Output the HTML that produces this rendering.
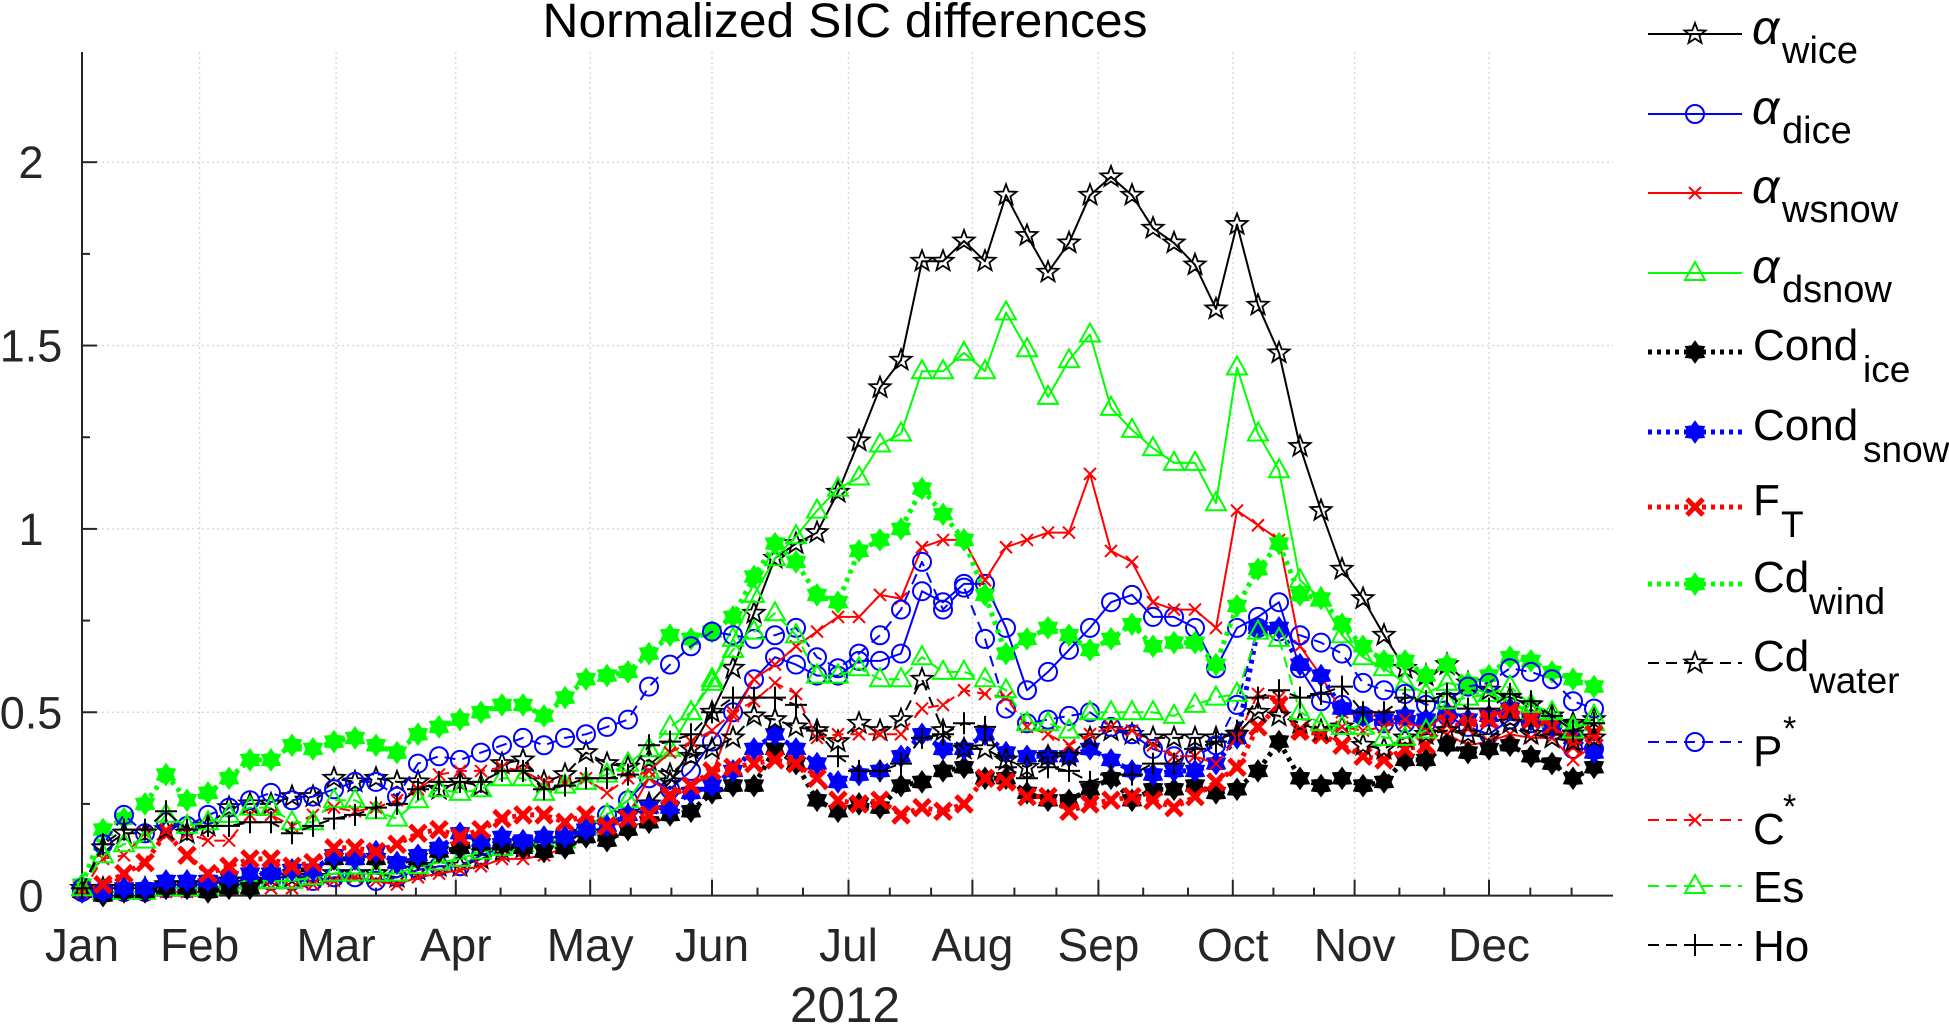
<!DOCTYPE html>
<html><head><meta charset="utf-8"><style>
html,body{margin:0;padding:0;background:#fff}
svg{display:block}
text{font-family:"Liberation Sans",sans-serif;fill:#262626}
</style></head><body>
<svg id="chart" width="1949" height="1027" viewBox="0 0 1949 1027" xmlns="http://www.w3.org/2000/svg">
<rect width="1949" height="1027" fill="#fff"/>
<text x="845" y="37" font-size="48" text-anchor="middle" textLength="605" lengthAdjust="spacingAndGlyphs" style="fill:#000">Normalized SIC differences</text>
<g id="grid"></g><g id="axes"></g><g id="series"></g><g id="legend"></g>
<text x="845" y="1022" font-size="50" text-anchor="middle" textLength="110" lengthAdjust="spacingAndGlyphs">2012</text>
</svg>
<script>
const monthLabels=["Jan","Feb","Mar","Apr","May","Jun","Jul","Aug","Sep","Oct","Nov","Dec"];
const monthPos=[0,5.6,12.1,17.8,24.2,30,36.5,42.4,48.4,54.8,60.6,67.0];
const yTicks=[0,0.5,1,1.5,2];
const yTickLabels=["0","0.5","1","1.5","2"];
const wice=[0.02,0.02,0.02,0.02,0.03,0.03,0.03,0.04,0.04,0.05,0.05,0.05,0.06,0.06,0.06,0.05,0.07,0.08,0.08,0.10,0.12,0.13,0.14,0.15,0.17,0.19,0.22,0.25,0.31,0.40,0.50,0.62,0.77,0.92,0.96,0.99,1.10,1.24,1.385,1.46,1.73,1.73,1.785,1.73,1.91,1.80,1.70,1.78,1.91,1.96,1.91,1.82,1.78,1.72,1.60,1.83,1.61,1.48,1.225,1.05,0.89,0.81,0.71,0.62,0.60,0.63,0.58,0.56,0.54,0.52,0.49,0.47,0.48];
const dice=[0.01,0.01,0.01,0.01,0.02,0.02,0.02,0.03,0.03,0.04,0.04,0.04,0.05,0.05,0.04,0.05,0.07,0.08,0.08,0.11,0.13,0.14,0.15,0.17,0.18,0.22,0.26,0.32,0.29,0.34,0.42,0.50,0.59,0.65,0.63,0.60,0.60,0.64,0.64,0.66,0.83,0.80,0.85,0.85,0.73,0.56,0.61,0.67,0.73,0.80,0.82,0.76,0.76,0.73,0.62,0.73,0.76,0.80,0.62,0.53,0.52,0.49,0.47,0.47,0.47,0.49,0.46,0.44,0.48,0.47,0.46,0.40,0.40];
const wsnow=[0.01,0.01,0.01,0.01,0.01,0.01,0.01,0.02,0.02,0.02,0.02,0.03,0.04,0.05,0.04,0.03,0.05,0.06,0.07,0.08,0.10,0.10,0.11,0.13,0.16,0.18,0.22,0.32,0.28,0.30,0.33,0.49,0.59,0.63,0.68,0.72,0.76,0.76,0.82,0.81,0.95,0.97,0.97,0.86,0.95,0.97,0.99,0.99,1.15,0.94,0.91,0.80,0.78,0.78,0.73,1.05,1.01,0.97,0.68,0.60,0.50,0.49,0.49,0.47,0.46,0.44,0.41,0.42,0.44,0.43,0.43,0.37,0.41];
const dsnow=[0.02,0.01,0.01,0.01,0.02,0.02,0.02,0.03,0.04,0.04,0.04,0.05,0.06,0.06,0.06,0.06,0.08,0.09,0.10,0.12,0.13,0.14,0.15,0.15,0.19,0.22,0.26,0.34,0.40,0.50,0.58,0.70,0.82,0.92,0.98,1.05,1.11,1.14,1.23,1.26,1.43,1.43,1.48,1.43,1.59,1.49,1.36,1.46,1.53,1.33,1.27,1.22,1.18,1.18,1.07,1.44,1.26,1.16,0.86,0.81,0.71,0.65,0.62,0.58,0.55,0.58,0.57,0.55,0.53,0.50,0.48,0.46,0.47];
const condIce=[0.01,0.00,0.01,0.01,0.02,0.02,0.01,0.02,0.02,0.06,0.07,0.07,0.10,0.10,0.10,0.09,0.10,0.12,0.13,0.14,0.14,0.13,0.12,0.13,0.16,0.15,0.18,0.20,0.22,0.23,0.28,0.30,0.30,0.40,0.36,0.26,0.23,0.25,0.24,0.30,0.31,0.34,0.35,0.32,0.32,0.28,0.26,0.26,0.29,0.32,0.26,0.29,0.29,0.30,0.28,0.29,0.34,0.42,0.32,0.30,0.32,0.30,0.31,0.37,0.37,0.41,0.39,0.40,0.41,0.38,0.36,0.32,0.35];
const condSnow=[0.01,0.01,0.02,0.02,0.04,0.04,0.04,0.05,0.06,0.06,0.07,0.07,0.11,0.10,0.12,0.09,0.11,0.13,0.17,0.15,0.16,0.15,0.16,0.16,0.18,0.19,0.22,0.24,0.24,0.28,0.30,0.34,0.40,0.44,0.40,0.36,0.31,0.33,0.34,0.38,0.44,0.40,0.40,0.44,0.39,0.38,0.38,0.38,0.40,0.37,0.34,0.33,0.34,0.34,0.36,0.43,0.73,0.73,0.63,0.60,0.51,0.49,0.48,0.49,0.48,0.50,0.48,0.49,0.51,0.48,0.46,0.43,0.39];
const fT=[0.02,0.03,0.06,0.09,0.17,0.11,0.06,0.08,0.10,0.10,0.08,0.09,0.13,0.13,0.12,0.14,0.17,0.18,0.16,0.18,0.21,0.22,0.22,0.20,0.22,0.19,0.21,0.22,0.27,0.30,0.34,0.35,0.36,0.37,0.36,0.32,0.26,0.25,0.26,0.22,0.24,0.23,0.25,0.32,0.31,0.27,0.27,0.23,0.25,0.26,0.27,0.26,0.24,0.27,0.31,0.35,0.46,0.52,0.45,0.44,0.41,0.38,0.37,0.40,0.41,0.47,0.46,0.48,0.50,0.48,0.46,0.41,0.44];
const cdWind=[0.03,0.18,0.21,0.25,0.33,0.26,0.28,0.32,0.37,0.37,0.41,0.40,0.42,0.43,0.41,0.39,0.44,0.46,0.48,0.50,0.52,0.52,0.49,0.54,0.59,0.60,0.61,0.66,0.71,0.70,0.72,0.76,0.87,0.96,0.91,0.82,0.80,0.94,0.97,1.00,1.11,1.04,0.97,0.82,0.66,0.70,0.73,0.71,0.67,0.70,0.74,0.68,0.69,0.69,0.63,0.79,0.89,0.96,0.82,0.81,0.74,0.68,0.64,0.64,0.60,0.63,0.58,0.60,0.65,0.64,0.61,0.59,0.57];
const cdWater=[0.02,0.13,0.17,0.17,0.18,0.17,0.19,0.24,0.25,0.25,0.27,0.27,0.32,0.31,0.32,0.31,0.31,0.29,0.31,0.30,0.36,0.37,0.31,0.33,0.39,0.36,0.35,0.37,0.33,0.38,0.40,0.43,0.49,0.48,0.46,0.45,0.42,0.47,0.45,0.48,0.59,0.45,0.40,0.40,0.37,0.35,0.38,0.38,0.43,0.45,0.44,0.43,0.43,0.43,0.43,0.44,0.50,0.49,0.47,0.45,0.46,0.41,0.40,0.43,0.44,0.45,0.44,0.43,0.47,0.44,0.43,0.42,0.43];
const pStar=[0.02,0.14,0.22,0.17,0.20,0.19,0.22,0.24,0.26,0.28,0.26,0.27,0.29,0.31,0.31,0.27,0.36,0.38,0.37,0.39,0.41,0.43,0.41,0.43,0.44,0.46,0.48,0.57,0.63,0.68,0.72,0.71,0.70,0.71,0.73,0.65,0.62,0.66,0.71,0.78,0.91,0.78,0.84,0.70,0.51,0.47,0.48,0.49,0.50,0.46,0.44,0.40,0.38,0.38,0.41,0.52,0.73,0.72,0.71,0.69,0.66,0.58,0.56,0.55,0.52,0.53,0.57,0.58,0.62,0.61,0.59,0.53,0.51];
const cStar=[0.01,0.10,0.11,0.17,0.18,0.17,0.15,0.15,0.22,0.22,0.19,0.22,0.24,0.23,0.24,0.26,0.29,0.33,0.34,0.34,0.35,0.34,0.31,0.31,0.32,0.28,0.32,0.34,0.39,0.42,0.45,0.50,0.53,0.58,0.55,0.43,0.44,0.44,0.44,0.44,0.51,0.52,0.56,0.55,0.54,0.46,0.44,0.41,0.44,0.46,0.45,0.41,0.38,0.38,0.36,0.43,0.55,0.54,0.44,0.43,0.46,0.45,0.46,0.48,0.45,0.50,0.48,0.49,0.51,0.49,0.46,0.43,0.43];
const es=[0.02,0.11,0.14,0.15,0.22,0.19,0.20,0.22,0.24,0.24,0.20,0.20,0.26,0.26,0.23,0.21,0.26,0.29,0.28,0.29,0.32,0.32,0.28,0.30,0.31,0.33,0.36,0.40,0.46,0.50,0.59,0.67,0.72,0.77,0.71,0.60,0.60,0.62,0.59,0.59,0.65,0.61,0.61,0.59,0.56,0.47,0.47,0.45,0.50,0.50,0.50,0.50,0.49,0.52,0.54,0.55,0.72,0.70,0.50,0.47,0.46,0.46,0.43,0.43,0.45,0.53,0.54,0.55,0.57,0.52,0.50,0.45,0.49];
const ho=[0.02,0.14,0.18,0.18,0.23,0.18,0.19,0.19,0.20,0.20,0.17,0.19,0.21,0.22,0.24,0.25,0.29,0.31,0.31,0.31,0.34,0.34,0.29,0.30,0.32,0.32,0.33,0.41,0.42,0.44,0.50,0.54,0.54,0.54,0.52,0.45,0.38,0.34,0.34,0.36,0.43,0.44,0.47,0.46,0.35,0.32,0.35,0.34,0.31,0.33,0.33,0.36,0.36,0.40,0.42,0.45,0.54,0.56,0.54,0.55,0.57,0.50,0.50,0.54,0.53,0.55,0.51,0.51,0.55,0.53,0.49,0.45,0.47];

const NS="http://www.w3.org/2000/svg";
const X0=82,XSTEP=21,Y0=895.6,YUNIT=366.7,TOP=52,RIGHT=1613;
function sx(i){return X0+i*XSTEP;}
function sy(v){return Y0-v*YUNIT;}
function mk(tag,attrs,parent){const e=document.createElementNS(NS,tag);for(const k in attrs)e.setAttribute(k,attrs[k]);parent.appendChild(e);return e;}

const grid=document.getElementById('grid'),axes=document.getElementById('axes'),ser=document.getElementById('series'),leg=document.getElementById('legend');
monthPos.forEach((m,k)=>{if(k===0)return;const l=mk('line',{x1:sx(m),x2:sx(m),y1:TOP,y2:Y0,stroke:'#d4d4d4','stroke-width':1.3,'stroke-dasharray':'2 3'},grid);

});
yTicks.forEach(v=>{if(v===0)return;const l=mk('line',{x1:X0,x2:RIGHT,y1:sy(v),y2:sy(v),stroke:'#d4d4d4','stroke-width':1.3,'stroke-dasharray':'2 3'},grid);

});
const ya=mk('line',{x1:X0,x2:X0,y1:TOP,y2:Y0,stroke:'#262626','stroke-width':2},axes);


const xa=mk('line',{x1:X0,x2:RIGHT,y1:Y0,y2:Y0,stroke:'#262626','stroke-width':2},axes);


yTicks.forEach((v,k)=>{mk('line',{x1:X0,x2:X0+15,y1:sy(v),y2:sy(v),stroke:'#262626','stroke-width':2},axes);
if(k<yTicks.length-1){mk('line',{x1:X0,x2:X0+8,y1:sy(v+0.25),y2:sy(v+0.25),stroke:'#262626','stroke-width':2},axes);}
const t=mk('text',{x:31,y:sy(v)+16,'font-size':45,'text-anchor':'middle'},axes);t.textContent=yTickLabels[k];

});
monthPos.forEach((m,k)=>{mk('line',{x1:sx(m),x2:sx(m),y1:Y0,y2:Y0-16,stroke:'#262626','stroke-width':2},axes);
const nxt=k<monthPos.length-1?monthPos[k+1]:72.9;
for(let j=1;j<=2;j++){const mm=m+(nxt-m)*j/3;mk('line',{x1:sx(mm),x2:sx(mm),y1:Y0,y2:Y0-8,stroke:'#262626','stroke-width':2},axes);}
const t=mk('text',{x:sx(m),y:961,'font-size':46,'text-anchor':'middle'},axes);t.textContent=monthLabels[k];

});

function star(n,ro,ri,cx,cy){let p=[];for(let k=0;k<2*n;k++){const r=k%2?ri:ro;const a=-Math.PI/2+k*Math.PI/n;p.push((cx+r*Math.cos(a)).toFixed(1)+','+(cy+r*Math.sin(a)).toFixed(1));}return p.join(' ');}
function marker(type,color,cx,cy,g){
 if(type==='star')return mk('polygon',{points:star(5,11,4.6,cx,cy),fill:'none',stroke:color,'stroke-width':1.8},g);
 if(type==='circle')return mk('circle',{cx:cx,cy:cy,r:9,fill:'none',stroke:color,'stroke-width':2},g);
 if(type==='x'){return mk('path',{d:`M${cx-6},${cy-6}L${cx+6},${cy+6}M${cx-6},${cy+6}L${cx+6},${cy-6}`,stroke:color,'stroke-width':2,fill:'none'},g);}
 if(type==='bx'){return mk('path',{d:`M${cx-8},${cy-8}L${cx+8},${cy+8}M${cx-8},${cy+8}L${cx+8},${cy-8}`,stroke:color,'stroke-width':5,fill:'none'},g);}
 if(type==='tri')return mk('polygon',{points:`${cx},${cy-11} ${cx+10},${cy+7} ${cx-10},${cy+7}`,fill:'none',stroke:color,'stroke-width':2},g);
 if(type==='hex')return mk('polygon',{points:star(6,11,7,cx,cy),fill:color,stroke:color,'stroke-width':1},g);
 if(type==='plus'){return mk('path',{d:`M${cx-11},${cy}L${cx+11},${cy}M${cx},${cy-11}L${cx},${cy+11}`,stroke:color,'stroke-width':2,fill:'none'},g);}
}
const SER=[
 {name:'alpha-wice',d:wice,c:'#000',m:'star',dash:null,w:2},
 {name:'alpha-dice',d:dice,c:'#0000ff',m:'circle',dash:null,w:2},
 {name:'alpha-wsnow',d:wsnow,c:'#ff0000',m:'x',dash:null,w:2},
 {name:'alpha-dsnow',d:dsnow,c:'#00ff00',m:'tri',dash:null,w:2},
 {name:'cond-ice',d:condIce,c:'#000',m:'hex',dash:'4 5',w:5},
 {name:'cond-snow',d:condSnow,c:'#0000ff',m:'hex',dash:'4 5',w:5},
 {name:'f-t',d:fT,c:'#ff0000',m:'bx',dash:'4 5',w:5},
 {name:'cd-wind',d:cdWind,c:'#00ff00',m:'hex',dash:'4 5',w:5},
 {name:'cd-water',d:cdWater,c:'#000',m:'star',dash:'11 7',w:2},
 {name:'p-star',d:pStar,c:'#0000ff',m:'circle',dash:'11 7',w:2},
 {name:'c-star',d:cStar,c:'#ff0000',m:'x',dash:'11 7',w:2},
 {name:'es',d:es,c:'#00ff00',m:'tri',dash:'11 7',w:2},
 {name:'ho',d:ho,c:'#000',m:'plus',dash:'11 7',w:2}
];
SER.forEach(s=>{
 const g=mk('g',{},ser);
 
 
 const pts=s.d.map((v,i)=>sx(i).toFixed(1)+','+sy(v).toFixed(1)).join(' ');
 const a={points:pts,fill:'none',stroke:s.c,'stroke-width':s.w,'stroke-linejoin':'round'};if(s.dash)a['stroke-dasharray']=s.dash;
 const pl=mk('polyline',a,g);
 
 
 s.d.forEach((v,i)=>{const e=marker(s.m,s.c,sx(i),sy(v),g);
 
 });
});
const rows=[34,114,193,273,352,432,507,584,663,742,820,886,945];
const labels=[['α','wice','sub'],['α','dice','sub'],['α','wsnow','sub'],['α','dsnow','sub'],['Cond','ice','sub2'],['Cond','snow','sub2'],['F','T','sub2'],['Cd','wind','sub2'],['Cd','water','sub2'],['P','*','sup'],['C','*','sup'],['Es','',''],['Ho','','']];
SER.forEach((s,k)=>{
 const y=rows[k];const g=mk('g',{},leg);
 
 
 const a={x1:1648,x2:1742,y1:y,y2:y,stroke:s.c,'stroke-width':s.w};if(s.dash)a['stroke-dasharray']=s.dash;
 mk('line',a,g);marker(s.m,s.c,1695,y,g);
 const L=labels[k];
 if(L[2]==='sub'){
  const t=mk('text',{x:1752,y:y+10,'font-size':48,'font-style':'italic','font-family':'Liberation Serif, serif'},g);t.textContent=L[0];t.style.fill='#000';
  const t2=mk('text',{x:1782,y:y+29,'font-size':38},g);t2.textContent=L[1];t2.style.fill='#000';
 } else if(L[2]==='sub2'){
  const t=mk('text',{x:1753,y:y+8,'font-size':44},g);t.textContent=L[0];t.style.fill='#000';
  const w=L[0]==='Cond'?110:(L[0]==='F'?28:56);
  const t2=mk('text',{x:1753+w,y:y+30,'font-size':37},g);t2.textContent=L[1];t2.style.fill='#000';
 } else if(L[2]==='sup'){
  const t=mk('text',{x:1753,y:y+24,'font-size':44},g);t.textContent=L[0];t.style.fill='#000';
  const t2=mk('text',{x:1783,y:y-2,'font-size':34},g);t2.textContent=L[1];t2.style.fill='#000';
 } else {
  const t=mk('text',{x:1753,y:y+16,'font-size':44},g);t.textContent=L[0];t.style.fill='#000';
 }
});
</script>
</body></html>
